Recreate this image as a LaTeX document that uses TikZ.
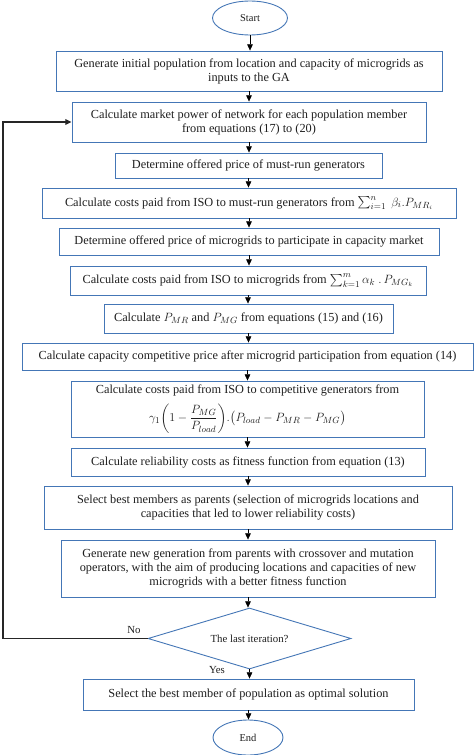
\documentclass[tikz,border=0pt]{standalone}
\usepackage{amsmath,amssymb}
\usepackage{fontspec}
\setmainfont{Liberation Serif}
\usepackage{tikz}
\usetikzlibrary{arrows.meta,shapes.geometric,calc}
\definecolor{flowblue}{RGB}{68,118,182}
\definecolor{flowtext}{RGB}{30,30,30}
\tikzset{
  box/.style={draw=flowblue, line width=0.9pt, inner sep=0pt, align=center,
    text=flowtext, font=\fontsize{12.3}{14}\selectfont},
  term/.style={box, ellipse, font=\fontsize{10.5}{12}\selectfont},
  test/.style={box, diamond, aspect=3.3, font=\fontsize{10.8}{12}\selectfont},
  arrow/.style={-{Triangle[length=2.2mm,width=2mm]}, line width=0.6pt, black},
  fback/.style={-{Triangle[length=2.2mm,width=2mm]}, line width=1.3pt, black!85},
  lbl/.style={inner sep=0pt, text=flowtext, font=\fontsize{10.8}{12}\selectfont},
}

\begin{document}
\begin{tikzpicture}[x=1pt,y=-1pt]
  \useasboundingbox (0,0) rectangle (474,755);
  % terminals
  \node[term, minimum width=75, minimum height=34] (st) at (250,18) {Start};
  \node[term, minimum width=70, minimum height=35] (en) at (248,737.5) {End};
  % process boxes
  \node[box, minimum width=386, minimum height=40] (b1) at (249,71)
    {Generate initial population from location and capacity of microgrids as\\ inputs to the GA};
  \node[box, minimum width=354, minimum height=40] (b2) at (249,122)
    {Calculate market power of network for each population member\\ from equations (17) to (20)};
  \node[box, minimum width=267, minimum height=25] (b3) at (248.5,165.5)
    {Determine offered price of must-run generators};
  \node[box, minimum width=414, minimum height=30] (b4) at (249,203)
    {Calculate costs paid from ISO to must-run generators from $\sum_{i=1}^{n}\ \beta_i.P_{MR_i}$};
  \node[box, minimum width=380, minimum height=27] (b5) at (249,241.5)
    {Determine offered price of microgrids to participate in capacity market};
  \node[box, minimum width=356, minimum height=29] (b6) at (248,280.5)
    {Calculate costs paid from ISO to microgrids from $\sum_{k=1}^{m}\alpha_k\ .\,P_{MG_k}$};
  \node[box, minimum width=289, minimum height=29] (b7) at (248.5,318.5)
    {Calculate $P_{MR}$ and $P_{MG}$ from equations (15) and (16)};
  \node[box, minimum width=451, minimum height=27] (b8) at (247.5,356.5)
    {Calculate capacity competitive price after microgrid participation from equation (14)};
  \node[box, minimum width=353, minimum height=56] (b9) at (247.5,409)
    {Calculate costs paid from ISO to competitive generators from\\[7pt]
     $\gamma_1\biggl(1-\dfrac{P_{MG}}{P_{load}}\biggr).\bigl(P_{load}-P_{MR}-P_{MG}\bigr)$};
  \node[box, minimum width=354, minimum height=28] (b10) at (248,462)
    {Calculate reliability costs as fitness function from equation (13)};
  \node[box, minimum width=408, minimum height=43] (b11) at (248,507.5)
    {Select best members as parents (selection of microgrids locations and\\ capacities that led to lower reliability costs)};
  \node[box, minimum width=374, minimum height=57] (b12) at (248,568.5)
    {Generate new generation from parents with crossover and mutation\\ operators, with the aim of producing locations and capacities of new\\ microgrids with a better fitness function};
  \node[test, minimum width=203, minimum height=61] (dec) at (249.5,638.5)
    {The last iteration?};
  \node[box, minimum width=331, minimum height=31] (b13) at (248.5,694.5)
    {Select the best member of population as optimal solution};
  % labels
  \node[lbl] (no) at (134,630) {No};
  \node[lbl] (yes) at (217,670) {Yes};
  % flow
  \foreach \a/\b in {st/b1,b1/b2,b2/b3,b3/b4,b4/b5,b5/b6,b6/b7,b7/b8,b8/b9,
                     b9/b10,b10/b11,b11/b12,b12/dec,dec/b13,b13/en}
    \draw[arrow] (\a.south) -- (\a.south |- \b.north);
  % loop back
  \coordinate (fb) at (3,0);
  \draw[fback] (dec.west) -- (dec.west -| fb) |- (b2.west);
\end{tikzpicture}
\end{document}
